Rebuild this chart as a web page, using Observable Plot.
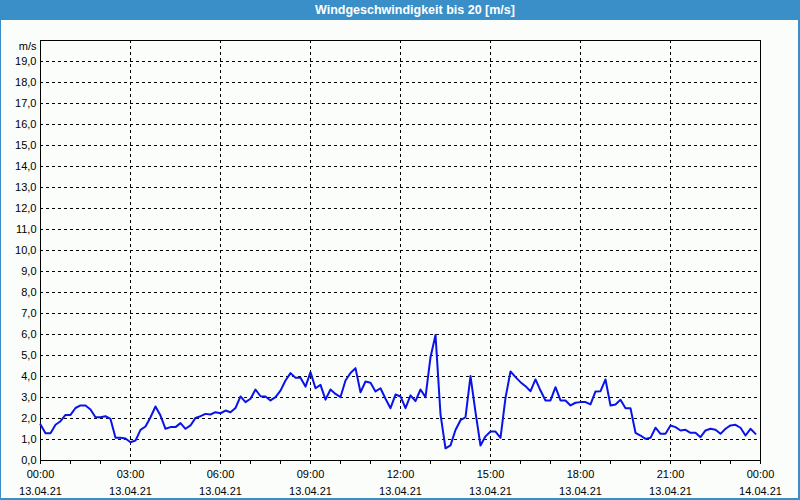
<!DOCTYPE html>
<html><head><meta charset="utf-8">
<script src="https://cdn.jsdelivr.net/npm/d3@7"></script>
<script src="https://cdn.jsdelivr.net/npm/@observablehq/plot@0.6"></script>
<style>
html,body{margin:0;padding:0;background:#fff;}
#win{position:relative;width:800px;height:500px;box-sizing:border-box;background:#fafdfa;border-left:1px solid #3a8fc8;border-right:2px solid #3a8fc8;border-bottom:2px solid #3a8fc8;}
#title{position:absolute;left:-1px;top:0;width:800px;height:20px;background:#3a8fc8;color:#fff;font:bold 12.5px "Liberation Sans",Arial,sans-serif;line-height:20px;text-align:center;padding-left:30px;box-sizing:border-box;}
#chart{position:absolute;left:0;top:20px;}
#chart svg{display:block;}
</style></head>
<body>
<div id="win">
  <div id="title">Windgeschwindigkeit bis 20 [m/s]</div>
  <div id="chart"></div>
</div>
<script>
// Data: wind speed in m/s, one value every 10 minutes from 13.04.21 00:00
const startTime = Date.UTC(2021, 3, 13, 0, 0);
const endTime = Date.UTC(2021, 3, 14, 0, 0);
const stepMinutes = 10;
const windSpeed = [
  1.71, 1.30, 1.30, 1.70, 1.87, 2.17, 2.17, 2.50, 2.62, 2.62,
  2.43, 2.06, 2.06, 2.11, 1.98, 1.08, 1.08, 1.05, 0.87, 0.95,
  1.46, 1.62, 2.06, 2.57, 2.14, 1.51, 1.59, 1.59, 1.78, 1.51,
  1.67, 2.03, 2.11, 2.22, 2.19, 2.30, 2.25, 2.38, 2.30, 2.50,
  3.05, 2.78, 2.94, 3.38, 3.06, 3.05, 2.86, 3.02, 3.33, 3.81,
  4.16, 3.94, 3.94, 3.52, 4.21, 3.44, 3.60, 2.90, 3.38, 3.17,
  3.02, 3.81, 4.17, 4.40, 3.25, 3.76, 3.70, 3.29, 3.44, 2.94,
  2.49, 3.14, 3.05, 2.49, 3.10, 2.83, 3.38, 3.02, 4.92, 5.98,
  2.20, 0.58, 0.72, 1.45, 1.92, 2.06, 4.02, 2.30, 0.71, 1.15,
  1.38, 1.38, 1.08, 2.98, 4.24, 3.97, 3.73, 3.54, 3.30, 3.86,
  3.33, 2.86, 2.86, 3.49, 2.86, 2.86, 2.62, 2.75, 2.78, 2.78,
  2.67, 3.29, 3.30, 3.86, 2.62, 2.67, 2.89, 2.49, 2.49, 1.32,
  1.19, 1.03, 1.08, 1.56, 1.27, 1.27, 1.67, 1.59, 1.43, 1.46,
  1.32, 1.32, 1.11, 1.43, 1.51, 1.46, 1.27, 1.51, 1.67, 1.70,
  1.56, 1.19, 1.51, 1.27
];
const yTickValues = [0,1,2,3,4,5,6,7,8,9,10,11,12,13,14,15,16,17,18,19];
const yGridValues = [1,2,3,4,5,6,7,8,9,10,11,12,13,14,15,16,17,18,19];
const unitLabel = "m/s";

const table = windSpeed.map((v, i) => ({time: new Date(startTime + i * stepMinutes * 60000), value: v}));
const domainX = [new Date(startTime), new Date(endTime)];
const hourTicks = d3.utcHour.range(domainX[0], new Date(endTime + 1));
const labelTicks = d3.utcHour.every(3).range(domainX[0], new Date(endTime + 1));
const xGrid = labelTicks.slice(1, -1);

const chart = Plot.plot({
  width: 797, height: 478,
  marginLeft: 39, marginRight: 38, marginTop: 20, marginBottom: 38,
  style: {fontFamily: "'Liberation Sans', Arial, sans-serif", fontSize: "11px", background: "transparent", color: "#000"},
  x: {type: "utc", domain: domainX},
  y: {domain: [0, 20]},
  marks: [
    Plot.ruleY(yGridValues, {stroke: "#000", strokeDasharray: "3,3"}),
    Plot.ruleX(xGrid, {stroke: "#000", strokeDasharray: "3,3"}),
    Plot.frame({stroke: "#000"}),
    Plot.axisY({ticks: yTickValues, tickSize: 0, tickPadding: 4, tickFormat: d => d.toFixed(1).replace(".", ","), label: null}),
    Plot.axisX({ticks: hourTicks, tickSize: 4, tickFormat: () => "", label: null}),
    Plot.axisX({ticks: labelTicks, tickSize: 0, tickPadding: 10, tickFormat: d3.utcFormat("%H:%M"), label: null}),
    Plot.axisX({ticks: labelTicks, tickSize: 0, tickPadding: 27, tickFormat: d3.utcFormat("%d.%m.%y"), label: null}),
    Plot.text([unitLabel], {frameAnchor: "top-left", textAnchor: "end", lineAnchor: "middle", dx: -4, dy: 6, fill: "#000"}),
    Plot.lineY(table, {x: "time", y: "value", stroke: "#0a14e8", strokeWidth: 2})
  ]
});
document.getElementById("chart").appendChild(chart);
</script>
</body></html>
